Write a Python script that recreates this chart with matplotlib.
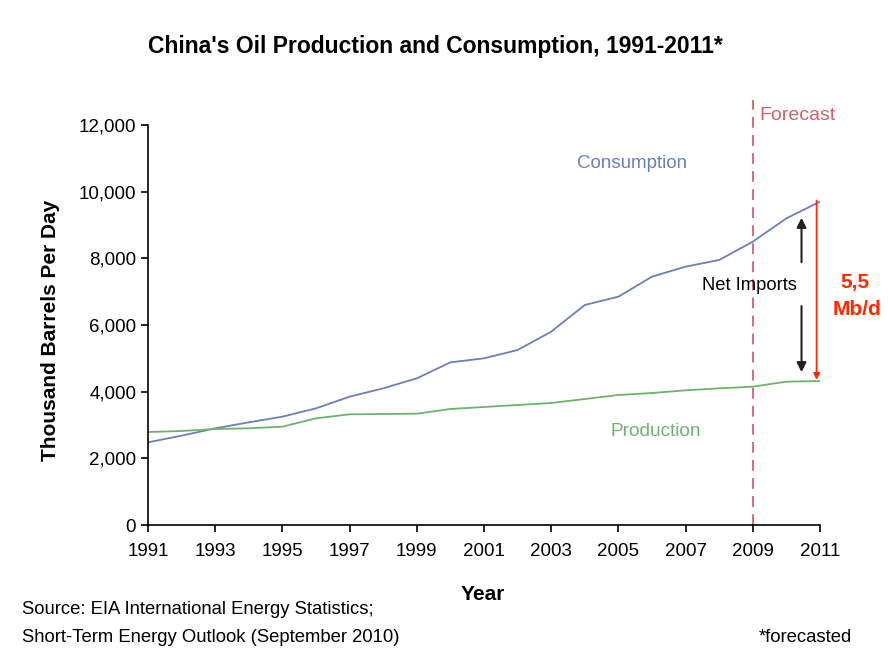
import matplotlib
matplotlib.use("Agg")
import matplotlib.pyplot as plt

years = list(range(1991, 2012))
consumption = [2480, 2680, 2900, 3080, 3250, 3500, 3850, 4100, 4400, 4880, 5000,
               5250, 5800, 6600, 6850, 7450, 7750, 7950, 8500, 9200, 9700]
production = [2790, 2820, 2880, 2900, 2950, 3200, 3320, 3330, 3340, 3480, 3540,
              3600, 3660, 3780, 3900, 3960, 4040, 4100, 4150, 4300, 4320]
xticks = list(range(1991, 2012, 2))
yticks = list(range(0, 12001, 2000))
forecast_year = 2009

plt.rcParams['font.family'] = ['Liberation Sans', 'DejaVu Sans']

fig = plt.figure(figsize=(8.88, 6.68), dpi=100)
ax = fig.add_axes([148/888, 1 - 525/668, 672/888, 400/668])

cons_color = '#6a80b8'
prod_color = '#6db36d'
red = '#ff2a00'

ax.plot(years, consumption, color=cons_color, lw=1.3)
ax.plot(years, production, color=prod_color, lw=1.3)

ax.set_xlim(1991, 2011)
ax.set_ylim(0, 12000)
ax.set_xticks(xticks)
ax.set_yticks(yticks)
ax.set_yticklabels([f"{v:,}" for v in yticks])
ax.tick_params(labelsize=13.5, length=5, width=1.2, direction='out')
ax.tick_params(axis='x', pad=8)
for s in ['top', 'right']:
    ax.spines[s].set_visible(False)
for s in ['left', 'bottom']:
    ax.spines[s].set_linewidth(1.2)

# forecast divider, runs above the axes
ax.plot([forecast_year, forecast_year], [0, 12750], ls=(0, (6, 4)),
        color='#d4606c', lw=1.3, clip_on=False)
ax.text(forecast_year + 0.2, 12300, "Forecast", color='#d4606c', fontsize=14,
        va='center', ha='left')

ax.text(2005.4, 10850, "Consumption", color=cons_color, fontsize=13.5, ha='center', va='center')
ax.text(2006.1, 2820, "Production", color=prod_color, fontsize=13.7, ha='center', va='center')

# net imports arrows
ax.annotate("", xy=(2010.45, 9300), xytext=(2010.45, 7800),
            arrowprops=dict(arrowstyle='-|>', color='#222222', lw=1.5, mutation_scale=14))
ax.annotate("", xy=(2010.45, 4500), xytext=(2010.45, 6650),
            arrowprops=dict(arrowstyle='-|>', color='#222222', lw=1.5, mutation_scale=14))
ax.text(2008.9, 7200, "Net Imports", fontsize=13.2, ha='center', va='center')

# red gap arrow from consumption down to production
ax.annotate("", xy=(2010.9, production[-1] - 50), xytext=(2010.9, consumption[-1] + 120),
            arrowprops=dict(arrowstyle='-|>', color=red, lw=1.3, mutation_scale=9),
            annotation_clip=False)
fig.text(855/888, 1 - 283/668, "5,5", color=red, fontsize=15, fontweight='bold',
         ha='center', va='center')
fig.text(857/888, 1 - 310/668, "Mb/d", color=red, fontsize=15, fontweight='bold',
         ha='center', va='center')

fig.text(435/888, 1 - 47/668, "China's Oil Production and Consumption, 1991-2011*",
         fontsize=16.5, fontweight='bold', ha='center', va='center')
fig.text(50/888, 1 - 330/668, "Thousand Barrels Per Day", fontsize=15, fontweight='bold',
         rotation=90, ha='center', va='center')
fig.text(483/888, 1 - 595/668, "Year", fontsize=15, fontweight='bold', ha='center', va='center')

fig.text(22/888, 1 - 610/668, "Source: EIA International Energy Statistics;", fontsize=13.3,
         ha='left', va='center')
fig.text(22/888, 1 - 638/668, "Short-Term Energy Outlook (September 2010)", fontsize=13.3,
         ha='left', va='center')
fig.text(852/888, 1 - 638/668, "*forecasted", fontsize=13.3, ha='right', va='center')

fig.savefig("out.png", dpi=100)
